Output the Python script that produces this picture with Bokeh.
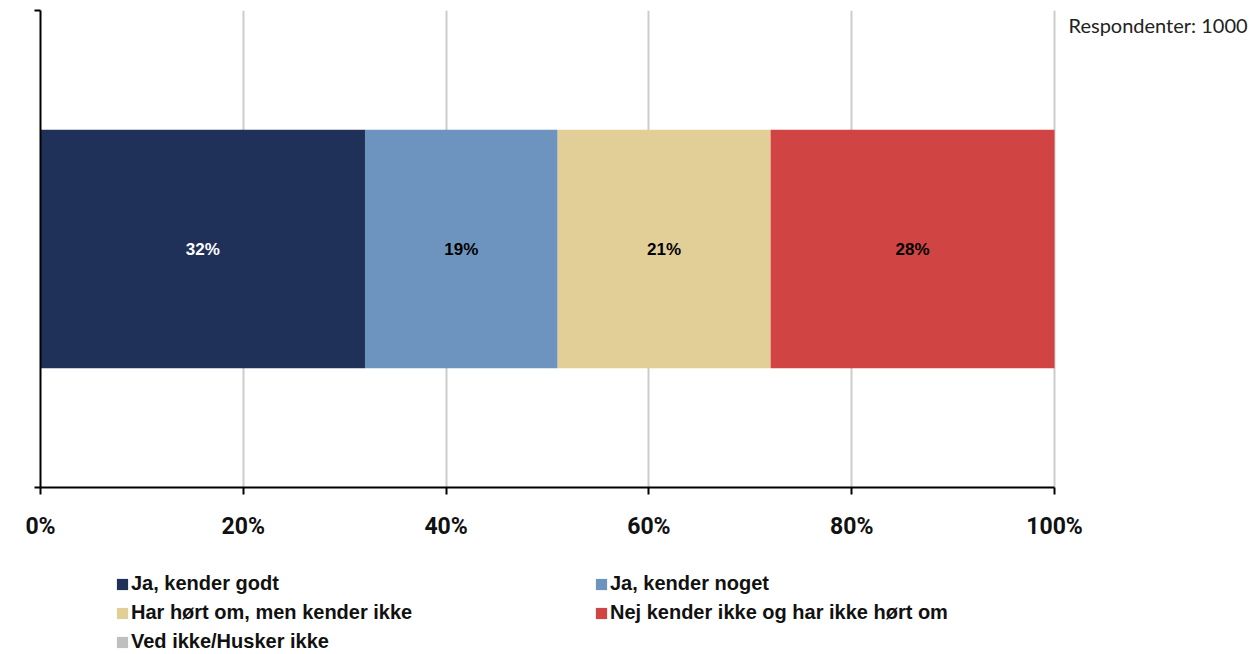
from bokeh.plotting import figure
from bokeh.layouts import column
from bokeh.core.properties import value
from bokeh.models import (ColumnDataSource, Range1d, FixedTicker, Label, LabelSet,
                          Legend, LegendItem, CustomJSTickFormatter)
from bokeh.embed import file_html
from bokeh.resources import INLINE

# ---- data ----
categories = ["Ja, kender godt", "Ja, kender noget", "Har hørt om, men kender ikke",
              "Nej kender ikke og har ikke hørt om", "Ved ikke/Husker ikke"]
values = [32, 19, 21, 28, 0]
colors = ["#1F3158", "#6D94BE", "#E2CF98", "#D04443", "#BFBFBF"]
label_colors = ["white", "black", "black", "black", "black"]
x_ticks = [0, 20, 40, 60, 80, 100]
respondents_text = "Respondenter: 1000"

p = figure(width=1254, height=545, output_backend="svg", toolbar_location=None,
           x_range=Range1d(0, 119.72), y_range=Range1d(0, 1),
           min_border_left=40, min_border_right=0, min_border_top=10, min_border_bottom=58)
p.outline_line_color = None
p.background_fill_color = "white"

lefts = []
acc = 0
for v in values:
    lefts.append(acc)
    acc += v
rights = [l + v for l, v in zip(lefts, values)]

for i, cat in enumerate(categories):
    p.hbar(y=0.5, left=lefts[i], right=rights[i], height=0.5,
           fill_color=colors[i], line_color=None)

lab_src = ColumnDataSource(dict(
    x=[(l + r) / 2 for l, r, v in zip(lefts, rights, values) if v > 0],
    y=[0.5 for v in values if v > 0],
    text=[f"{v}%" for v in values if v > 0],
    color=[c for c, v in zip(label_colors, values) if v > 0],
))
p.add_layout(LabelSet(source=lab_src, x="x", y="y", text="text", text_color="color",
                      text_align="center", text_baseline="middle",
                      text_font=value("Liberation Sans"), text_font_style="bold",
                      text_font_size="17px"))

# axes
p.xaxis.ticker = FixedTicker(ticks=x_ticks)
p.xaxis.bounds = (0, 100)
p.xaxis.formatter = CustomJSTickFormatter(code="return tick + '%';")
p.xaxis.axis_line_color = "black"
p.xaxis.axis_line_width = 2
p.xaxis.major_tick_line_color = "black"
p.xaxis.major_tick_line_width = 2
p.xaxis.major_tick_out = 7
p.xaxis.major_tick_in = 0
p.xaxis.minor_tick_line_color = None
p.xaxis.major_label_standoff = 18
p.xaxis.major_label_text_font = "Roboto"
p.xaxis.major_label_text_font_style = "bold"
p.xaxis.major_label_text_font_size = "23px"
p.xaxis.major_label_text_color = "#111111"

p.yaxis.ticker = FixedTicker(ticks=[0, 1])
p.yaxis.axis_line_color = "black"
p.yaxis.axis_line_width = 2
p.yaxis.major_tick_line_color = "black"
p.yaxis.major_tick_line_width = 2
p.yaxis.major_tick_out = 6
p.yaxis.major_tick_in = 0
p.yaxis.minor_tick_line_color = None
p.yaxis.major_label_text_font_size = "0px"
p.yaxis.major_label_text_color = None

p.xgrid.ticker = FixedTicker(ticks=x_ticks)
p.xgrid.bounds = (0, 1)
p.xgrid.grid_line_color = "#CCCCCC"
p.xgrid.grid_line_width = 2
p.ygrid.grid_line_color = None

p.add_layout(Label(x=100, y=1, x_offset=14, y_offset=-2, text=respondents_text,
                   text_font="Lato", text_font_size="20px", text_color="#222222",
                   text_baseline="top", text_align="left"))

# legend figure (frame covers the whole figure); swatch renderers sit outside its ranges
p2 = figure(width=1254, height=109, output_backend="svg", toolbar_location=None,
            x_range=Range1d(0, 1), y_range=Range1d(0, 1),
            min_border=0, x_axis_type=None, y_axis_type=None)
p2.outline_line_color = None
p2.xgrid.visible = False
p2.ygrid.visible = False
leg_renderers = []
for i, cat in enumerate(categories):
    r = p2.hbar(y=[-10], left=[lefts[i]], right=[rights[i]], height=0.5,
                fill_color=colors[i], line_color=None)
    leg_renderers.append(r)

legend = Legend(items=[LegendItem(label=c, renderers=[r]) for c, r in zip(categories, leg_renderers)],
                ncols=2, orientation="horizontal", location=(75, 1),
                padding=0, margin=0, spacing=6, label_standoff=2,
                glyph_width=14, glyph_height=14, label_width=457, label_height=23,
                label_text_font="Liberation Sans", label_text_font_style="bold",
                label_text_font_size="20px", label_text_color="#111111",
                border_line_color=None, background_fill_alpha=0)
p2.add_layout(legend, "center")

open("out.html", "w").write(file_html(column(p, p2), INLINE))
